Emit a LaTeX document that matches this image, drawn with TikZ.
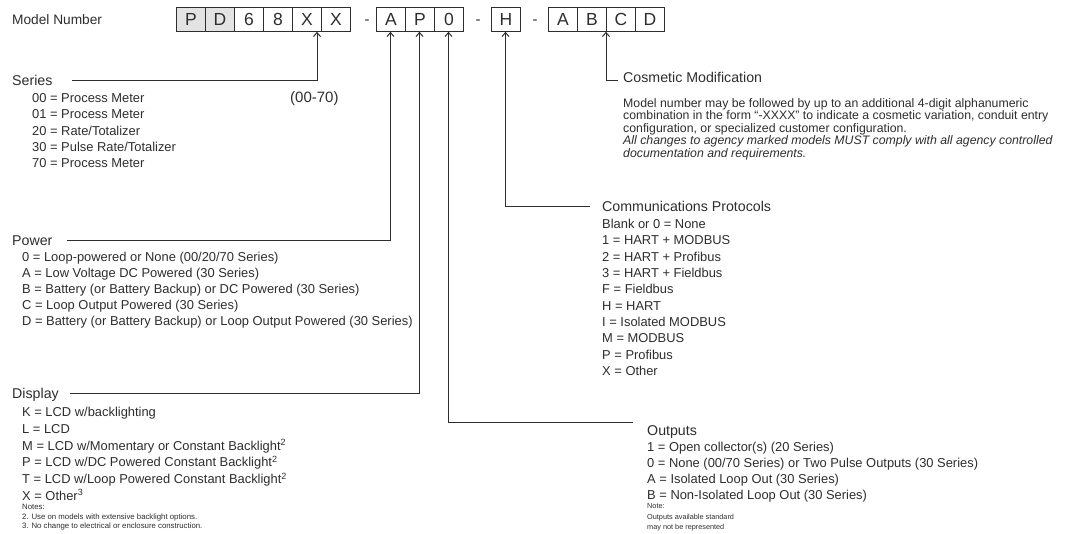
\documentclass[tikz,border=0pt]{standalone}
\usepackage{fontspec}
\setmainfont{Liberation Sans}
\usetikzlibrary{arrows.meta}
\definecolor{ink}{HTML}{2E2E2E}
\definecolor{boxgray}{HTML}{E3E3E3}
\begin{document}
\begin{tikzpicture}[x=1pt,y=-1pt,
  lbl/.style={anchor=base west, inner sep=0pt, text=ink},
  head/.style={lbl, font=\fontsize{14.2}{16}\selectfont, yshift=-5pt},
  item/.style={lbl, font=\fontsize{12.9}{14}\selectfont, yshift=-4.6pt},
  para/.style={lbl, font=\fontsize{12.3}{14}\selectfont, yshift=-4.4pt},
  tiny/.style={lbl, font=\fontsize{7.8}{8}\selectfont, yshift=-2.8pt},
  digit/.style={draw=ink, line width=0.8pt, minimum width=29pt, minimum height=24pt,
    inner sep=0pt, anchor=north west, font=\fontsize{17.5}{18}\selectfont, text=ink},
  grayd/.style={digit, fill=boxgray},
  sep/.style={anchor=base, inner sep=0pt, text=ink, font=\fontsize{15}{16}\selectfont, yshift=-5.3pt},
  conn/.style={draw=ink, line width=1pt, -{Straight Barb[length=4pt,width=7pt]}}
]
\useasboundingbox[fill=white] (0,0) rectangle (1073,533);

% model number boxes
\node[head, font=\fontsize{13.7}{16}\selectfont] (title) at (12,19) {Model Number};
\node[grayd] (b1) at (176,7) {P};
\node[grayd] (b2) at (205,7) {D};
\node[digit] (b3) at (234,7) {6};
\node[digit] (b4) at (263,7) {8};
\node[digit] (b5) at (292,7) {X};
\node[digit] (b6) at (321,7) {X};
\node[sep] (d1) at (367,19) {-};
\node[digit] (c1) at (376,7) {A};
\node[digit] (c2) at (405,7) {P};
\node[digit] (c3) at (434,7) {0};
\node[sep] (d2) at (478,19) {-};
\node[digit] (h1) at (491,7) {H};
\node[sep] (d3) at (535,19) {-};
\node[digit] (e1) at (548,7) {A};
\node[digit] (e2) at (577,7) {B};
\node[digit] (e3) at (606,7) {C};
\node[digit] (e4) at (635,7) {D};

% Series
\node[head] (series) at (12,80) {Series};
\node[head, font=\fontsize{15}{16}\selectfont] (range) at (290,97) {(00-70)};
\foreach \t [count=\i] in {{00 = Process Meter},{01 = Process Meter},{20 = Rate/Totalizer},{30 = Pulse Rate/Totalizer},{70 = Process Meter}}
  \node[item] (se\i) at (32,{98+16.3*(\i-1)}) {\t};
\coordinate (sL) at (72,80);
\coordinate (sK) at (317,80);
\draw[conn] (sL) -- (sK) -- (sK |- b5.south);

% Power
\node[head] (power) at (12,240) {Power};
\foreach \t [count=\i] in {{0 = Loop-powered or None (00/20/70 Series)},{A = Low Voltage DC Powered (30 Series)},{B = Battery (or Battery Backup) or DC Powered (30 Series)},{C = Loop Output Powered (30 Series)},{D = Battery (or Battery Backup) or Loop Output Powered (30 Series)}}
  \node[item] (pw\i) at (22,{257+16*(\i-1)}) {\t};
\coordinate (pL) at (67,240);
\coordinate (pK) at (390.5,240);
\draw[conn] (pL) -- (pK) -- (pK |- c1.south);

% Display
\node[head] (display) at (12,393) {Display};
\foreach \t [count=\i] in {{K = LCD w/backlighting},{L = LCD},{M = LCD w/Momentary or Constant Backlight\textsuperscript{2}},{P = LCD w/DC Powered Constant Backlight\textsuperscript{2}},{T = LCD w/Loop Powered Constant Backlight\textsuperscript{2}},{X = Other\textsuperscript{3}}}
  \node[item] (di\i) at (22,{412+16.7*(\i-1)}) {\t};
\node[tiny] (dn0) at (22,506.5) {Notes:};
\node[tiny] (dn1) at (22,517) {2. Use on models with extensive backlight options.};
\node[tiny] (dn2) at (22,526) {3. No change to electrical or enclosure construction.};
\coordinate (dL) at (70,393);
\coordinate (dK) at (419.5,393);
\draw[conn] (dL) -- (dK) -- (dK |- c2.south);

% Outputs
\node[head] (outputs) at (647,430) {Outputs};
\foreach \t [count=\i] in {{1 = Open collector(s) (20 Series)},{0 = None (00/70 Series) or Two Pulse Outputs (30 Series)},{A = Isolated Loop Out (30 Series)},{B = Non-Isolated Loop Out (30 Series)}}
  \node[item] (ou\i) at (647,{447+15.8*(\i-1)}) {\t};
\node[tiny, font=\fontsize{7.3}{8}\selectfont] (on0) at (647,506) {Note:};
\node[tiny, font=\fontsize{7.3}{8}\selectfont] (on1) at (647,516.5) {Outputs available standard};
\node[tiny, font=\fontsize{7.3}{8}\selectfont] (on2) at (647,527) {may not be represented};
\coordinate (oK) at (448.5,422);
\coordinate (oR) at (633,422);
\draw[conn] (oR) -- (oK) -- (oK |- c3.south);

% Communications
\node[head] (comm) at (602,206) {Communications Protocols};
\foreach \t [count=\i] in {{Blank or 0 = None},{1 = HART + MODBUS},{2 = HART + Profibus},{3 = HART + Fieldbus},{F = Fieldbus},{H = HART},{I = Isolated MODBUS},{M = MODBUS},{P = Profibus},{X = Other}}
  \node[item] (cm\i) at (602,{224+16.3*(\i-1)}) {\t};
\coordinate (hK) at (505.5,206);
\coordinate (hR) at (590,206);
\draw[conn] (hR) -- (hK) -- (hK |- h1.south);

% Cosmetic
\node[head] (cosm) at (623,77) {Cosmetic Modification};
\node[para] (cp1) at (623,103) {Model number may be followed by up to an additional 4-digit alphanumeric};
\node[para] (cp2) at (623,115.5) {combination in the form ``-XXXX'' to indicate a cosmetic variation, conduit entry};
\node[para] (cp3) at (623,128) {configuration, or specialized customer configuration.};
\node[para, font=\fontsize{12.3}{14}\selectfont\itshape] (cp4) at (623,140.5) {All changes to agency marked models MUST comply with all agency controlled};
\node[para, font=\fontsize{12.3}{14}\selectfont\itshape] (cp5) at (623,153) {documentation and requirements.};
\coordinate (cK) at (606,80);
\coordinate (cR) at (618,80);
\draw[conn] (cR) -- (cK) -- (cK |- e3.south);
\end{tikzpicture}
\end{document}
